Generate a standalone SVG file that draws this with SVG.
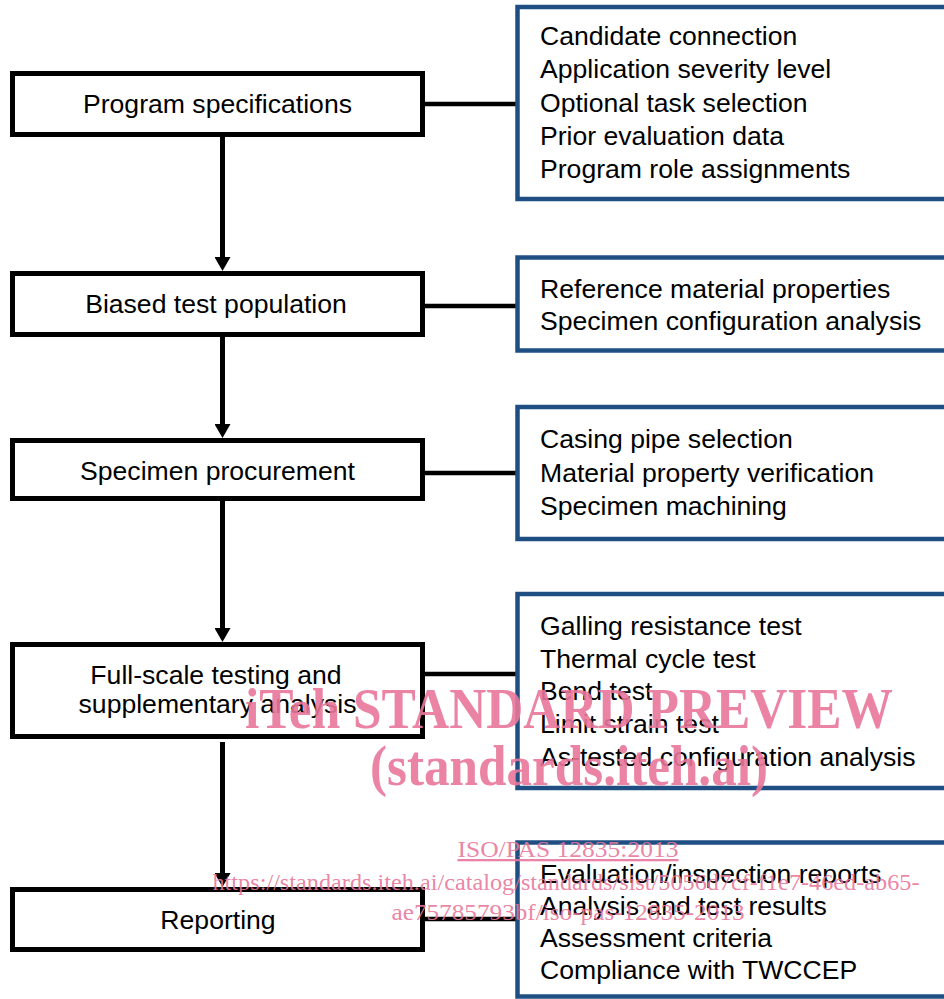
<svg xmlns="http://www.w3.org/2000/svg" width="944" height="999" viewBox="0 0 944 999">
<defs>
<style>
.step{fill:#fff;stroke:#000;stroke-width:5}
.info{fill:#fff;stroke:#1f4f82;stroke-width:4.5}
.t{font-family:"Liberation Sans",Arial,sans-serif;font-size:26.6px;fill:#000}
.c{text-anchor:middle}
.conn{stroke:#000;stroke-width:4.5;fill:none}
.arr{stroke:#000;stroke-width:5;fill:none;marker-end:url(#ah)}
.wm{font-family:"Liberation Serif","Times New Roman",serif;fill:#e8769a;fill-opacity:.9;text-anchor:middle}
</style>
<marker id="ah" viewBox="0 0 14 16" refX="4" refY="8" markerWidth="14" markerHeight="16" markerUnits="userSpaceOnUse" orient="auto">
<path d="M0,0 L14,8 L0,16 z" fill="#000"/>
</marker>
</defs>
<rect width="944" height="999" fill="#fff"/>

<g id="connectors">
<line class="conn" x1="425" y1="104" x2="517" y2="104"/>
<line class="conn" x1="425" y1="306" x2="517" y2="306"/>
<line class="conn" x1="425" y1="473" x2="517" y2="473"/>
<line class="conn" x1="425" y1="674" x2="517" y2="674"/>
<line class="conn" x1="425" y1="919" x2="517" y2="919"/>
<line class="arr" x1="222.5" y1="137" x2="222.5" y2="261"/>
<line class="arr" x1="222.5" y1="337" x2="222.5" y2="428"/>
<line class="arr" x1="222.5" y1="501" x2="222.5" y2="632"/>
<line class="arr" x1="222.5" y1="742" x2="222.5" y2="877"/>
</g>

<g id="n1"><rect class="step" x="12.5" y="73.5" width="410" height="61"/><text class="t c" x="217.5" y="113">Program specifications</text></g>
<g id="n2"><rect class="step" x="12.5" y="273.5" width="410" height="61"/><text class="t c" x="216" y="313">Biased test population</text></g>
<g id="n3"><rect class="step" x="12.5" y="440.5" width="410" height="58"/><text class="t c" x="217.5" y="480">Specimen procurement</text></g>
<g id="n4"><rect class="step" x="12.5" y="644.5" width="410" height="92"/><text class="t c" x="216" y="684">Full-scale testing and</text><text class="t c" x="217.5" y="713">supplementary analysis</text></g>
<g id="n5"><rect class="step" x="12.5" y="889.5" width="410" height="60"/><text class="t c" x="218" y="929">Reporting</text></g>

<g id="i1"><rect class="info" x="517.5" y="7" width="440" height="192"/>
<text class="t" x="540" y="45">Candidate connection</text>
<text class="t" x="540" y="78">Application severity level</text>
<text class="t" x="540" y="112">Optional task selection</text>
<text class="t" x="540" y="145">Prior evaluation data</text>
<text class="t" x="540" y="178">Program role assignments</text></g>
<g id="i2"><rect class="info" x="517.5" y="257.5" width="440" height="93"/>
<text class="t" x="540" y="298">Reference material properties</text>
<text class="t" x="540" y="330">Specimen configuration analysis</text></g>
<g id="i3"><rect class="info" x="517.5" y="407" width="440" height="132"/>
<text class="t" x="540" y="448">Casing pipe selection</text>
<text class="t" x="540" y="482">Material property verification</text>
<text class="t" x="540" y="515">Specimen machining</text></g>
<g id="i4"><rect class="info" x="517.5" y="594" width="440" height="194"/>
<text class="t" x="540" y="635">Galling resistance test</text>
<text class="t" x="540" y="668">Thermal cycle test</text>
<text class="t" x="540" y="700">Bend test</text>
<text class="t" x="540" y="733">Limit strain test</text>
<text class="t" x="540" y="766">As-tested configuration analysis</text></g>
<g id="i5"><rect class="info" x="517.5" y="842.5" width="440" height="154"/>
<text class="t" x="540" y="883">Evaluation/inspection reports</text>
<text class="t" x="540" y="915">Analysis and test results</text>
<text class="t" x="540" y="947">Assessment criteria</text>
<text class="t" x="540" y="979">Compliance with TWCCEP</text></g>

<g id="watermark">
<text class="wm" x="569" y="728" font-size="58" font-weight="bold" textLength="648" lengthAdjust="spacingAndGlyphs">iTeh STANDARD PREVIEW</text>
<text class="wm" x="569" y="785" font-size="58" font-weight="bold" textLength="398" lengthAdjust="spacingAndGlyphs">(standards.iteh.ai)</text>
<text class="wm" x="568" y="857" font-size="23" text-decoration="underline" textLength="221" lengthAdjust="spacingAndGlyphs">ISO/PAS 12835:2013</text>
<text class="wm" x="566" y="890" font-size="24" textLength="707" lengthAdjust="spacingAndGlyphs">https://standards.iteh.ai/catalog/standards/sist/5056d7cf-f1e7-46ed-ab65-</text>
<text class="wm" x="568" y="920" font-size="24" textLength="353" lengthAdjust="spacingAndGlyphs">ae75785793bf/iso-pas-12835-2013</text>
</g>
</svg>
